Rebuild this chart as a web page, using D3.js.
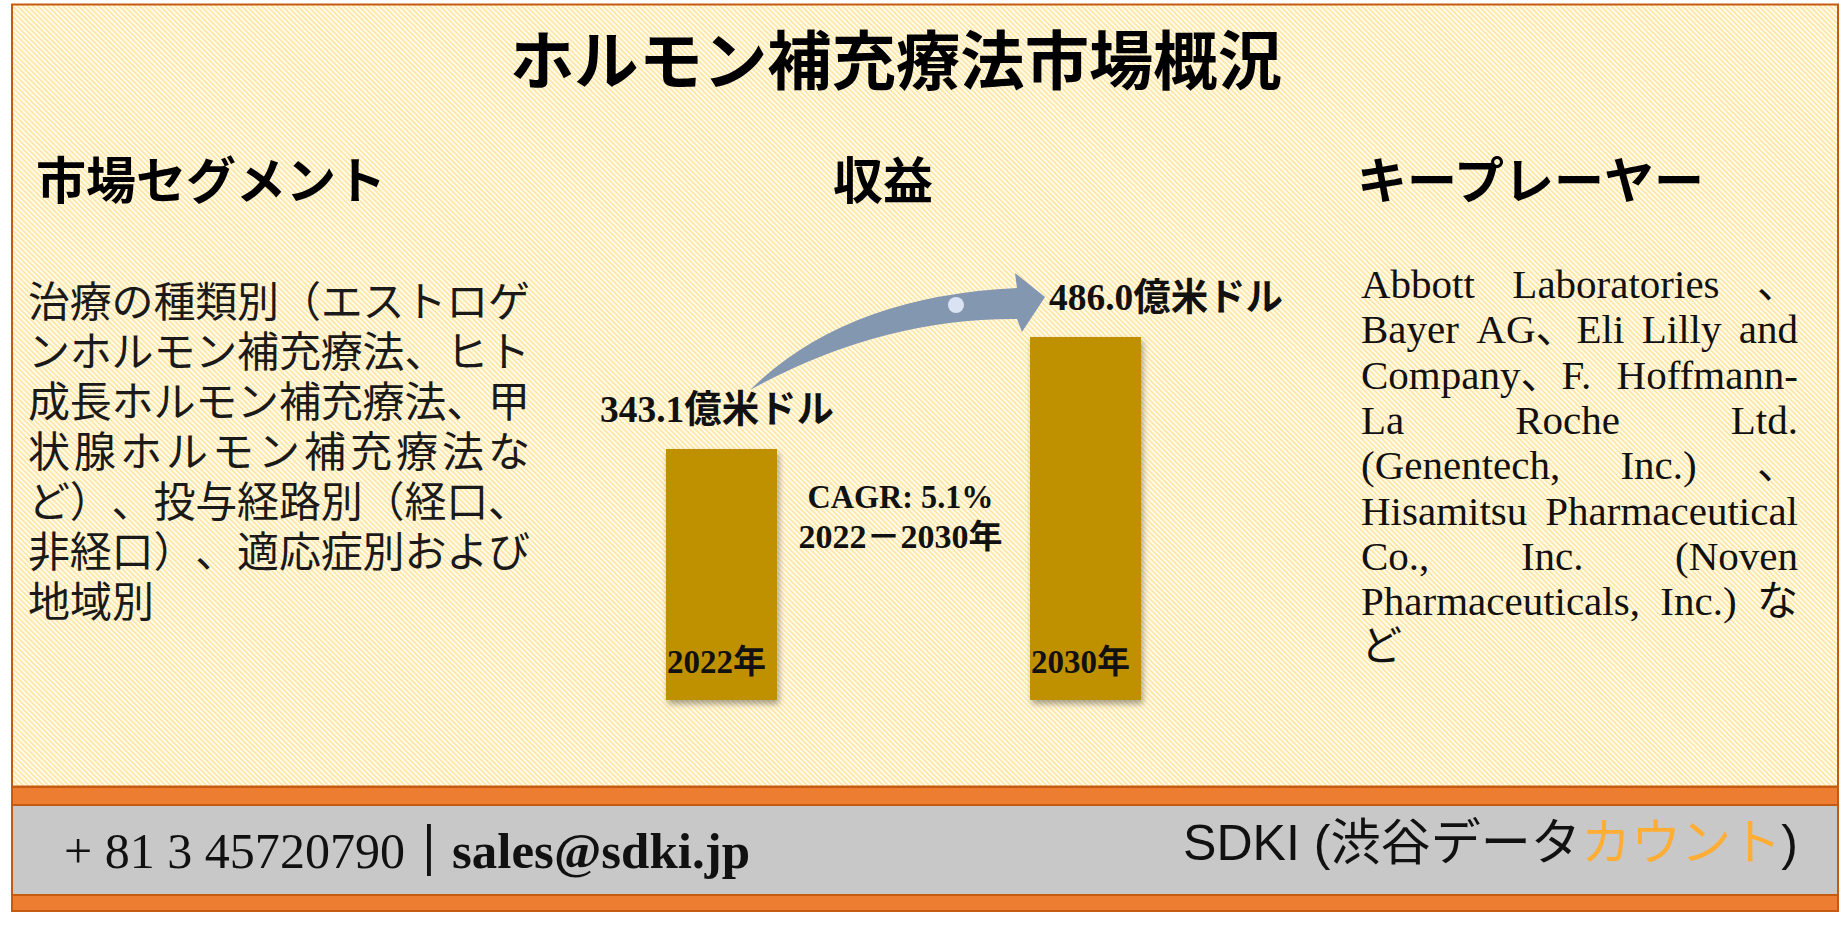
<!DOCTYPE html>
<html>
<head>
<meta charset="utf-8">
<script src="https://cdn.jsdelivr.net/npm/d3@7"></script>
<style>
    body { margin: 0; background: #fff; }
</style>
</head>
<body>
<div id="chart"></div>
<script>
// chart values
var years = ["2022年", "2030年"];
var revenue = [343.1, 486.0];
var revenueLabels = ["343.1億米ドル", "486.0億米ドル"];
var cagrLabel = "CAGR: 5.1%";
var periodLabel = "2022－2030年";
var title = "ホルモン補充療法市場概況";
var headers = ["市場セグメント", "収益", "キープレーヤー"];
var segmentLines = [
    "治療の種類別（エストロゲ",
    "ンホルモン補充療法、ヒト",
    "成長ホルモン補充療法、甲",
    "状腺ホルモン補充療法な",
    "ど）、投与経路別（経口、",
    "非経口）、適応症別および",
    "地域別"
];
var playerLines = [
    ["Abbott", "Laboratories", "、"],
    ["Bayer", "AG、Eli", "Lilly", "and"],
    ["Company、F.", "Hoffmann-"],
    ["La", "Roche", "Ltd."],
    ["(Genentech,", "Inc.)", "、"],
    ["Hisamitsu", "Pharmaceutical"],
    ["Co.,", "Inc.", "(Noven"],
    ["Pharmaceuticals,", "Inc.)", "な"],
    ["ど"]
];
var phone = "+ 81 3 45720790";
var mail = "sales@sdki.jp";
var brand = ["SDKI (", "渋谷データ", "カウント", ")"];

var width = 1845, height = 929;
var serif = "'Liberation Serif', 'Noto Sans CJK JP', serif";
var jp = "'Noto Sans CJK JP', sans-serif";

var svg = d3.select("#chart")
    .append("svg")
    .attr("width", width)
    .attr("height", height)

var defs = svg.append("defs")

/*
    fine diagonal hatch used for the main panel
*/
var pat = defs.append("pattern")
    .attr("id", "hatch")
    .attr("patternUnits", "userSpaceOnUse")
    .attr("width", 3.6)
    .attr("height", 3.6)
    .attr("patternTransform", "rotate(-45)")
pat.append("rect").attr("width", 3.6).attr("height", 3.6).attr("fill", "#fffbf0")
pat.append("line")
    .attr("x1", 0.9).attr("y1", 0).attr("x2", 0.9).attr("y2", 3.6)
    .attr("stroke", "#ffe597").attr("stroke-width", 1.5)

var shadow = defs.append("filter")
    .attr("id", "shadow")
    .attr("x", "-20%").attr("y", "-10%")
    .attr("width", "150%").attr("height", "130%")
shadow.append("feDropShadow")
    .attr("dx", 2).attr("dy", 4)
    .attr("stdDeviation", 3)
    .attr("flood-color", "#000")
    .attr("flood-opacity", 0.35)

/*
    panel and footer
*/
svg.append("rect")
    .attr("x", 12).attr("y", 4.5)
    .attr("width", 1826).attr("height", 782)
    .attr("fill", "url(#hatch)")
    .attr("stroke", "#c55a11")
    .attr("stroke-width", 2)

svg.append("rect")
    .attr("x", 12).attr("y", 787)
    .attr("width", 1826).attr("height", 124)
    .attr("fill", "#ed7d31")
    .attr("stroke", "#c55a11")
    .attr("stroke-width", 2)

svg.append("rect")
    .attr("x", 12).attr("y", 805)
    .attr("width", 1826).attr("height", 90)
    .attr("fill", "#c8c8c8")
    .attr("stroke", "#c55a11")
    .attr("stroke-width", 2)

/*
    title and section headers
*/
svg.append("text")
    .attr("x", 510).attr("y", 84)
    .attr("font-family", jp)
    .attr("font-weight", 700)
    .attr("font-size", 64)
    .attr("textLength", 772)
    .attr("lengthAdjust", "spacingAndGlyphs")
    .text(title)

var headerX = [36, 833, 1357];
svg.selectAll(".header")
    .data(headers)
    .enter().append("text")
    .attr("class", "header")
    .attr("x", function (d, i) { return headerX[i] })
    .attr("y", 199)
    .attr("font-family", jp)
    .attr("font-weight", 700)
    .attr("font-size", 50)
    .text(function (d) { return d })

/*
    left column: one paragraph, each line justified char by char
*/
var segFont = 42, segLeft = 28, segWidth = 502;
var segText = svg.append("text")
    .attr("font-family", jp)
    .attr("font-size", segFont)
    .attr("fill", "#1a1a1a")

segText.selectAll("tspan")
    .data(segmentLines)
    .enter().append("tspan")
    .attr("y", function (d, i) { return 317 + i * 50 })
    .attr("x", function (d, i) {
        var chars = Array.from(d)
        var last = i === segmentLines.length - 1
        var step = last ? segFont : (segWidth - segFont) / (chars.length - 1)
        return chars.map(function (c, k) { return (segLeft + k * step).toFixed(1) }).join(" ")
    })
    .text(function (d) { return d })

/*
    right column: one paragraph, word-justified
*/
var colLeft = 1361, colRight = 1798;
var measure = svg.append("text")
    .attr("font-family", serif)
    .attr("font-size", 41)
function wordWidth(w) {
    measure.text(w)
    return measure.node().getComputedTextLength()
}
var placed = [];
playerLines.forEach(function (words, i) {
    var widths = words.map(wordWidth)
    var total = d3.sum(widths)
    var last = i === playerLines.length - 1
    var gap = (words.length > 1 && !last) ? (colRight - colLeft - total) / (words.length - 1) : 11
    var xx = colLeft
    words.forEach(function (w, k) {
        placed.push({ word: w, x: xx, y: 298 + i * 45.3 })
        xx += widths[k] + gap
    })
})
measure.remove()

svg.append("text")
    .attr("font-family", serif)
    .attr("font-size", 41)
    .attr("fill", "#111")
    .selectAll("tspan")
    .data(placed)
    .enter().append("tspan")
    .attr("x", function (d) { return d.x })
    .attr("y", function (d) { return d.y })
    .text(function (d) { return d.word })

/*
    revenue bars
*/
var x = d3.scaleBand()
    .domain(years)
    .range([666, 1141])
    .paddingInner(0.695)
    .paddingOuter(0)

var y = d3.scaleLinear()
    .domain([0, 500])
    .range([718, 326])

var base = 700;

svg.selectAll(".bar")
    .data(revenue)
    .enter().append("rect")
    .attr("class", "bar")
    .attr("x", function (d, i) { return x(years[i]) })
    .attr("y", function (d) { return y(d) })
    .attr("width", x.bandwidth())
    .attr("height", function (d) { return base - y(d) })
    .attr("fill", "#bf9000")
    .attr("filter", "url(#shadow)")

svg.selectAll(".year")
    .data(years)
    .enter().append("text")
    .attr("class", "year")
    .attr("x", function (d) { return x(d) + x.bandwidth() / 2 - 5 })
    .attr("y", base - 27)
    .attr("text-anchor", "middle")
    .attr("font-family", serif)
    .attr("font-weight", 700)
    .attr("font-size", 33)
    .attr("textLength", 99)
    .attr("lengthAdjust", "spacingAndGlyphs")
    .attr("fill", "#111")
    .text(function (d) { return d })

// first label sits left of its bar, second right of the arrow head
var labelShift = [-66, 19];
svg.selectAll(".value")
    .data(revenue)
    .enter().append("text")
    .attr("class", "value")
    .attr("x", function (d, i) { return x(years[i]) + labelShift[i] })
    .attr("y", function (d) { return y(d) - 27 })
    .attr("font-family", serif)
    .attr("font-weight", 700)
    .attr("font-size", 38)
    .attr("textLength", 234)
    .attr("lengthAdjust", "spacingAndGlyphs")
    .attr("fill", "#111")
    .text(function (d, i) { return revenueLabels[i] })

var midX = (x(years[0]) + x.bandwidth() + x(years[1])) / 2;
svg.append("text")
    .attr("x", midX - 3).attr("y", 508)
    .attr("text-anchor", "middle")
    .attr("font-family", serif)
    .attr("font-weight", 700)
    .attr("font-size", 33)
    .attr("textLength", 186)
    .attr("lengthAdjust", "spacingAndGlyphs")
    .attr("fill", "#111")
    .text(cagrLabel)

svg.append("text")
    .attr("x", midX - 3).attr("y", 548)
    .attr("text-anchor", "middle")
    .attr("font-family", serif)
    .attr("font-weight", 700)
    .attr("font-size", 33)
    .attr("textLength", 204)
    .attr("lengthAdjust", "spacingAndGlyphs")
    .attr("fill", "#111")
    .text(periodLabel)

/*
    growth arrow from the 2022 label up to the 2030 label
*/
var tail = [x(years[0]) + 84, y(revenue[0]) - 59];
var tip = [x(years[1]) + 15, y(revenue[1]) - 40];
var p = d3.path();
p.moveTo(tail[0], tail[1]);
p.quadraticCurveTo(tail[0] + 95, tail[1] - 94, tip[0] - 28, tip[1] - 9);
p.lineTo(tip[0] - 30, tip[1] - 24);
p.lineTo(tip[0], tip[1]);
p.lineTo(tip[0] - 23, tip[1] + 35);
p.lineTo(tip[0] - 28, tip[1] + 22);
p.quadraticCurveTo(tail[0] + 130, tail[1] - 72, tail[0], tail[1]);
p.closePath();

svg.append("path")
    .attr("d", p.toString())
    .attr("fill", "#8497b0")

svg.append("circle")
    .attr("cx", tip[0] - 89)
    .attr("cy", tip[1] + 8)
    .attr("r", 8)
    .attr("fill", "#dae3f3")

/*
    footer contact line
*/
svg.append("text")
    .attr("x", 64).attr("y", 868)
    .attr("font-family", serif)
    .attr("font-size", 50)
    .attr("textLength", 341)
    .attr("lengthAdjust", "spacingAndGlyphs")
    .attr("fill", "#111")
    .text(phone)

svg.append("text")
    .attr("x", 429).attr("y", 864)
    .attr("text-anchor", "middle")
    .attr("font-family", serif)
    .attr("font-weight", 700)
    .attr("font-size", 56)
    .attr("fill", "#111")
    .text("|")

svg.append("text")
    .attr("x", 452).attr("y", 868)
    .attr("font-family", serif)
    .attr("font-weight", 700)
    .attr("font-size", 50)
    .attr("textLength", 298)
    .attr("lengthAdjust", "spacingAndGlyphs")
    .attr("fill", "#111")
    .text(mail)

// brand: size the font so the line spans the same width as the reference
var brandText = svg.append("text")
    .attr("x", 1183).attr("y", 860)
    .attr("font-family", "'Liberation Sans', 'Noto Sans CJK JP', sans-serif")
    .attr("font-size", 51)
brandText.selectAll("tspan")
    .data(brand)
    .enter().append("tspan")
    .attr("fill", function (d, i) { return i === 2 ? "#ffad33" : "#111" })
    .text(function (d) { return d })
var brandW = brandText.node().getComputedTextLength();
brandText.attr("font-size", Math.min(53, 51 * 615 / brandW))
</script>
</body>
</html>
